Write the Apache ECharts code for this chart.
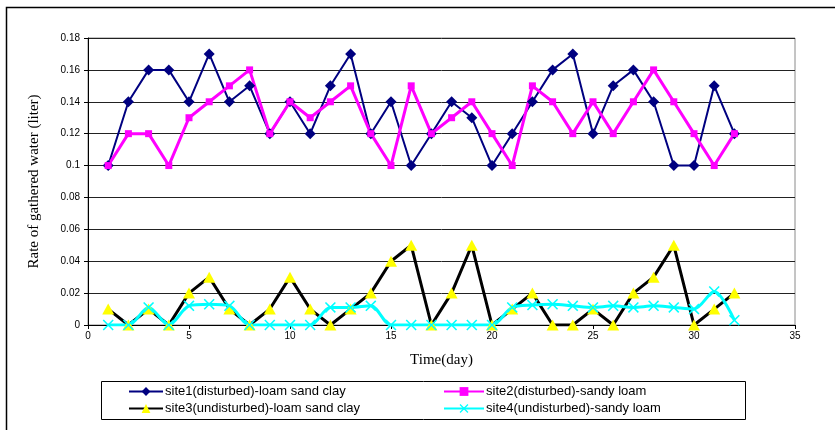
<!DOCTYPE html>
<html>
<head>
<meta charset="utf-8">
<script src="https://cdn.jsdelivr.net/npm/echarts@6/dist/echarts.min.js"></script>
<style>
  html, body { margin: 0; padding: 0; background: #fff; }
  #chart { width: 835px; height: 430px; }
</style>
</head>
<body>
<div id="chart"></div>
<script>
// Days of observation
const days = [1,2,3,4,5,6,7,8,9,10,11,12,13,14,15,16,17,18,19,20,21,22,23,24,25,26,27,28,29,30,31,32];

// Rate of gathered water (liter) per site
const site1 = [0.10,0.14,0.16,0.16,0.14,0.17,0.14,0.15,0.12,0.14,0.12,0.15,0.17,0.12,0.14,0.10,
               0.12,0.14,0.13,0.10,0.12,0.14,0.16,0.17,0.12,0.15,0.16,0.14,0.10,0.10,0.15,0.12];
const site2 = [0.10,0.12,0.12,0.10,0.13,0.14,0.15,0.16,0.12,0.14,0.13,0.14,0.15,0.12,0.10,0.15,
               0.12,0.13,0.14,0.12,0.10,0.15,0.14,0.12,0.14,0.12,0.14,0.16,0.14,0.12,0.10,0.12];
const site3 = [0.01,0,0.01,0,0.02,0.03,0.01,0,0.01,0.03,0.01,0,0.01,0.02,0.04,0.05,
               0,0.02,0.05,0,0.01,0.02,0,0,0.01,0,0.02,0.03,0.05,0,0.01,0.02];
const site4 = [0,0,0.011,0,0.012,0.013,0.012,0,0,0,0,0.011,0.011,0.012,0,0,
               0,0,0,0,0.011,0.0125,0.013,0.012,0.011,0.012,0.011,0.012,0.011,0.010,0.021,0.003];

const seriesNames = [
  'site1(disturbed)-loam sand clay',
  'site2(disturbed)-sandy loam',
  'site3(undisturbed)-loam sand clay',
  'site4(undisturbed)-sandy loam'
];

const yTicks = { min: 0, max: 0.18, interval: 0.02 };
const xTicks = { min: 0, max: 35, interval: 5 };

const pairs = arr => days.map((d, i) => [d, arr[i]]);

// "x" marker drawn as a filled outline
const crossPath = 'path://M0,1L1,0L5,4L9,0L10,1L6,5L10,9L9,10L5,6L1,10L0,9L4,5Z';

const chart = echarts.init(document.getElementById('chart'), null, { renderer: 'canvas' });

const legendText = { fontSize: 13, lineHeight: 15, color: '#000', padding: [0, 0, 0, -3] };

chart.setOption({
  backgroundColor: '#fff',
  animation: false,
  textStyle: { fontFamily: 'Liberation Sans, Arial, sans-serif' },
  grid: {
    left: 88, top: 38, right: 40, bottom: 105,
    show: true, borderColor: '#8a8a8a', borderWidth: 1
  },
  xAxis: {
    type: 'value',
    min: xTicks.min, max: xTicks.max, interval: xTicks.interval,
    name: 'Time(day)',
    nameLocation: 'middle',
    nameGap: 28,
    nameTextStyle: { fontFamily: 'Liberation Serif, Times New Roman, serif', fontSize: 15, color: '#000' },
    axisLine: { lineStyle: { color: '#000', width: 1 } },
    axisTick: { show: true, inside: false, length: 4, lineStyle: { color: '#000' } },
    axisLabel: { color: '#000', fontSize: 10, margin: 6 },
    splitLine: { show: false }
  },
  yAxis: {
    type: 'value',
    min: yTicks.min, max: yTicks.max, interval: yTicks.interval,
    name: 'Rate of gathered water (liter)',
    nameLocation: 'middle',
    nameGap: 46,
    nameRotate: 90,
    nameTextStyle: { fontFamily: 'Liberation Serif, Times New Roman, serif', fontSize: 15, color: '#000' },
    axisLine: { show: true, lineStyle: { color: '#000', width: 1 } },
    axisTick: { show: true, inside: false, length: 4, lineStyle: { color: '#000' } },
    axisLabel: { color: '#000', fontSize: 10, margin: 8 },
    splitLine: { show: true, lineStyle: { color: '#222', width: 1 } }
  },
  legend: [
    {
      data: [seriesNames[0], seriesNames[2]],
      orient: 'vertical',
      left: 128, top: 384, padding: 0,
      itemWidth: 34, itemHeight: 11, itemGap: 2,
      textStyle: legendText
    },
    {
      data: [seriesNames[1], seriesNames[3]],
      orient: 'vertical',
      left: 443, top: 384, padding: 0,
      itemWidth: 40, itemHeight: 11, itemGap: 2,
      textStyle: legendText
    }
  ],
  graphic: [
    {
      type: 'rect',
      shape: { x: 6.5, y: 7.5, width: 840, height: 440 },
      style: { fill: null, stroke: '#000', lineWidth: 1.5 },
      silent: true, z: -10
    },
    {
      type: 'rect',
      shape: { x: 101.5, y: 381.5, width: 644, height: 38 },
      style: { fill: null, stroke: '#000', lineWidth: 1 },
      silent: true
    }
  ],
  series: [
    {
      name: seriesNames[0], type: 'line', data: pairs(site1),
      symbol: 'diamond', symbolSize: 11,
      lineStyle: { color: '#000080', width: 2 },
      itemStyle: { color: '#000080' }
    },
    {
      name: seriesNames[1], type: 'line', data: pairs(site2),
      symbol: 'rect', symbolSize: 7,
      lineStyle: { color: '#ff00ff', width: 3 },
      itemStyle: { color: '#ff00ff' }
    },
    {
      name: seriesNames[2], type: 'line', data: pairs(site3),
      symbol: 'triangle', symbolSize: [12, 11],
      lineStyle: { color: '#000', width: 3 },
      itemStyle: { color: '#ffff00' }
    },
    {
      name: seriesNames[3], type: 'line', data: pairs(site4),
      symbol: crossPath, symbolSize: 11,
      smooth: 0.3,
      lineStyle: { color: '#00ffff', width: 3 },
      itemStyle: { color: '#00ffff' }
    }
  ]
});
</script>
</body>
</html>
